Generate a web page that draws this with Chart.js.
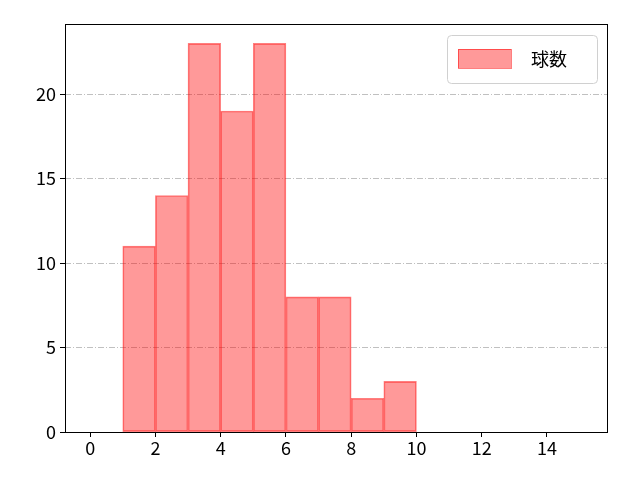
<!DOCTYPE html>
<html>
<head>
<meta charset="utf-8">
<script src="https://cdn.jsdelivr.net/npm/chart.js@4/dist/chart.umd.min.js"></script>
<style>
  html, body { margin: 0; padding: 0; background: #fff; }
  #wrap { width: 640px; height: 480px; }
</style>
</head>
<body>
<div id="wrap"><canvas id="c" width="640" height="480"></canvas></div>
<script>
// --- Datos ---
const binCenters = [1.5, 2.5, 3.5, 4.5, 5.5, 6.5, 7.5, 8.5, 9.5];
const counts     = [11, 14, 23, 19, 23, 8, 8, 2, 3];
const xTicks     = [0, 2, 4, 6, 8, 10, 12, 14];
const yTicks     = [0, 5, 10, 15, 20];
const seriesName = "球数";

const FONT = "'Noto Sans CJK JP', 'Noto Sans', sans-serif";

// --- Marco y leyenda ---
const framePlugin = {
  id: "frame",
  afterDraw(chart) {
    const { ctx, chartArea: a } = chart;
    ctx.save();
    ctx.strokeStyle = "#000";
    ctx.lineWidth = 1;
    ctx.strokeRect(a.left + 0.5, a.top + 0.5, a.right - a.left, a.bottom - a.top);

    // leyenda
    const ds = chart.data.datasets[0];
    const bx = 447, by = 35, bw = 150, bh = 48;
    ctx.fillStyle = "rgba(255,255,255,0.8)";
    ctx.strokeStyle = "#d0d0d0";
    ctx.beginPath();
    ctx.roundRect(bx + 0.5, by + 0.5, bw, bh, 4);
    ctx.fill();
    ctx.stroke();
    ctx.fillStyle = ds.backgroundColor;
    ctx.strokeStyle = ds.borderColor;
    ctx.fillRect(458, 49, 53, 19);
    ctx.strokeRect(458.5, 49.5, 53, 19);
    ctx.fillStyle = "#000";
    ctx.font = "18px " + FONT;
    ctx.textBaseline = "middle";
    ctx.fillText(seriesName, 531, 59);
    ctx.restore();
  }
};

new Chart(document.getElementById("c"), {
  type: "bar",
  data: {
    datasets: [{
      label: seriesName,
      data: binCenters.map((x, i) => ({ x, y: counts[i] })),
      backgroundColor: "rgba(255,0,0,0.4)",
      borderColor: "rgba(255,0,0,0.5)",
      borderWidth: 1,
      borderSkipped: false,
      barPercentage: 1,
      categoryPercentage: 1
    }]
  },
  options: {
    responsive: false,
    animation: false,
    layout: { padding: { left: 0, top: 24, right: 33, bottom: 0 } },
    plugins: { legend: { display: false }, tooltip: { enabled: false } },
    scales: {
      x: {
        type: "linear",
        offset: false,
        min: -0.77,
        max: 15.84,
        afterBuildTicks: s => { s.ticks = xTicks.map(v => ({ value: v })); },
        afterFit: s => { s.height = 48; },
        grid: { offset: false, drawOnChartArea: false, drawTicks: true, tickLength: 5, tickColor: "#000", tickWidth: 1 },
        border: { display: false },
        ticks: { color: "#000", font: { family: FONT, size: 18 }, padding: 0, maxRotation: 0 }
      },
      y: {
        min: 0,
        max: 24.15,
        afterBuildTicks: s => { s.ticks = yTicks.map(v => ({ value: v })); },
        afterFit: s => { s.width = 65; },
        grid: {
          color: "#b0b0b0", lineWidth: 0.8,
          tickLength: 5, tickColor: "#000", tickWidth: 1, tickBorderDash: []
        },
        border: { display: false, dash: [6, 2, 1, 2] },
        ticks: { color: "#000", font: { family: FONT, size: 18 }, padding: 4 }
      }
    }
  },
  plugins: [framePlugin]
});
</script>
</body>
</html>
